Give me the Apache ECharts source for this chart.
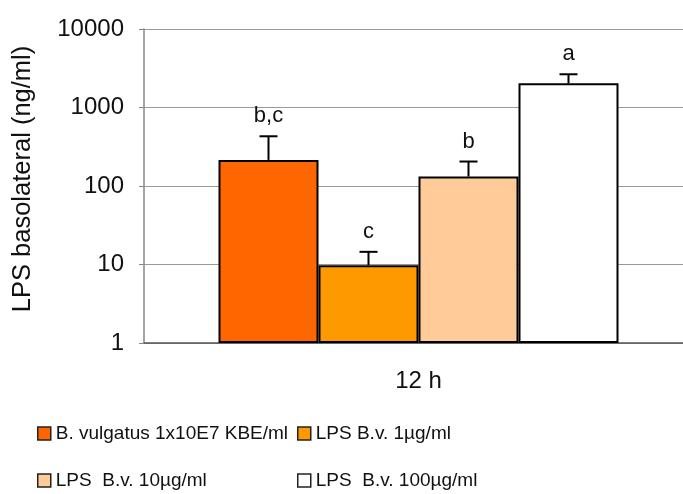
<!DOCTYPE html>
<html>
<head>
<meta charset="utf-8">
<script src="https://cdn.jsdelivr.net/npm/echarts@6/dist/echarts.min.js"></script>
<style>
  html, body { margin: 0; padding: 0; background: #fff; }
  #chart { width: 683px; height: 494px; }
</style>
</head>
<body>
<div id="chart"></div>
<script>
const categories = ['12 h'];
const groupNames = ['B. vulgatus 1x10E7 KBE/ml', 'LPS B.v. 1µg/ml', 'LPS  B.v. 10µg/ml', 'LPS  B.v. 100µg/ml'];
const meanValues = [215, 9.8, 132, 2030];
const upperValues = [430, 14.5, 205, 2650];
const letters = ['b,c', 'c', 'b', 'a'];
const yTicks = [1, 10, 100, 1000, 10000];

const colors = ['#FF6600', '#FF9900', '#FFCC99', '#FFFFFF'];
const BAR_W = 100;
const FONT = 'Liberation Sans, Arial, sans-serif';

const chart = echarts.init(document.getElementById('chart'));

const barSeries = groupNames.map((name, i) => ({
  name,
  type: 'bar',
  data: [meanValues[i]],
  barWidth: BAR_W,
  barGap: '0%',
  itemStyle: { color: colors[i], borderColor: '#000', borderWidth: 2 },
}));

// error bars (upper only) with significance letters above
const errorSeries = {
  type: 'custom',
  data: meanValues.map((v, i) => [0, v, upperValues[i]]),
  z: 5,
  renderItem: (params, api) => {
    const i = params.dataIndex;
    const top = api.coord([0, api.value(1)]);
    const up = api.coord([0, api.value(2)]);
    const x = top[0] + (i - 1.5) * BAR_W;
    return {
      type: 'group',
      children: [
        { type: 'line', shape: { x1: x, y1: top[1], x2: x, y2: up[1] }, style: { stroke: '#000', lineWidth: 2 } },
        { type: 'line', shape: { x1: x - 9, y1: up[1], x2: x + 9, y2: up[1] }, style: { stroke: '#000', lineWidth: 2 } },
        {
          type: 'text', x: x, y: up[1] - 20,
          style: { text: letters[i], align: 'center', verticalAlign: 'middle', fontSize: 22, fontFamily: FONT, fill: '#111' },
        },
      ],
    };
  },
};

const legendPos = [
  { left: 37, top: 424 },
  { left: 297, top: 424 },
  { left: 37, top: 471 },
  { left: 297, top: 471 },
];

chart.setOption({
  backgroundColor: '#fff',
  animation: false,
  legend: groupNames.map((name, i) => ({
    data: [name],
    left: legendPos[i].left,
    top: legendPos[i].top,
    padding: 0,
    icon: 'rect',
    itemWidth: 13,
    itemHeight: 13,
    itemStyle: { borderColor: '#222', borderWidth: 1.5 },
    textStyle: { fontSize: 19, fontFamily: FONT, color: '#111' },
    selectedMode: false,
  })),
  grid: { left: 144, right: -10, top: 29, bottom: 151, containLabel: false, outerBoundsMode: 'none' },
  xAxis: {
    type: 'category',
    data: categories,
    axisTick: { show: false },
    axisLine: { lineStyle: { color: '#555', width: 1.5 } },
    axisLabel: { color: '#111', fontSize: 24, fontFamily: FONT, margin: 26 },
  },
  yAxis: {
    type: 'log',
    logBase: 10,
    min: yTicks[0],
    max: yTicks[yTicks.length - 1],
    name: 'LPS basolateral (ng/ml)',
    nameLocation: 'middle',
    nameGap: 108,
    nameTextStyle: { color: '#111', fontSize: 25.5, fontFamily: FONT, padding: [0, 0, 0, 14] },
    axisLine: { show: true, lineStyle: { color: '#888', width: 1.5 } },
    axisTick: { show: true, length: 5, lineStyle: { color: '#888' } },
    axisLabel: { color: '#111', fontSize: 24, fontFamily: FONT, margin: 20, formatter: (v) => String(v) },
    splitLine: { lineStyle: { color: '#999', width: 1 } },
  },
  series: [...barSeries, errorSeries],
});
</script>
</body>
</html>
